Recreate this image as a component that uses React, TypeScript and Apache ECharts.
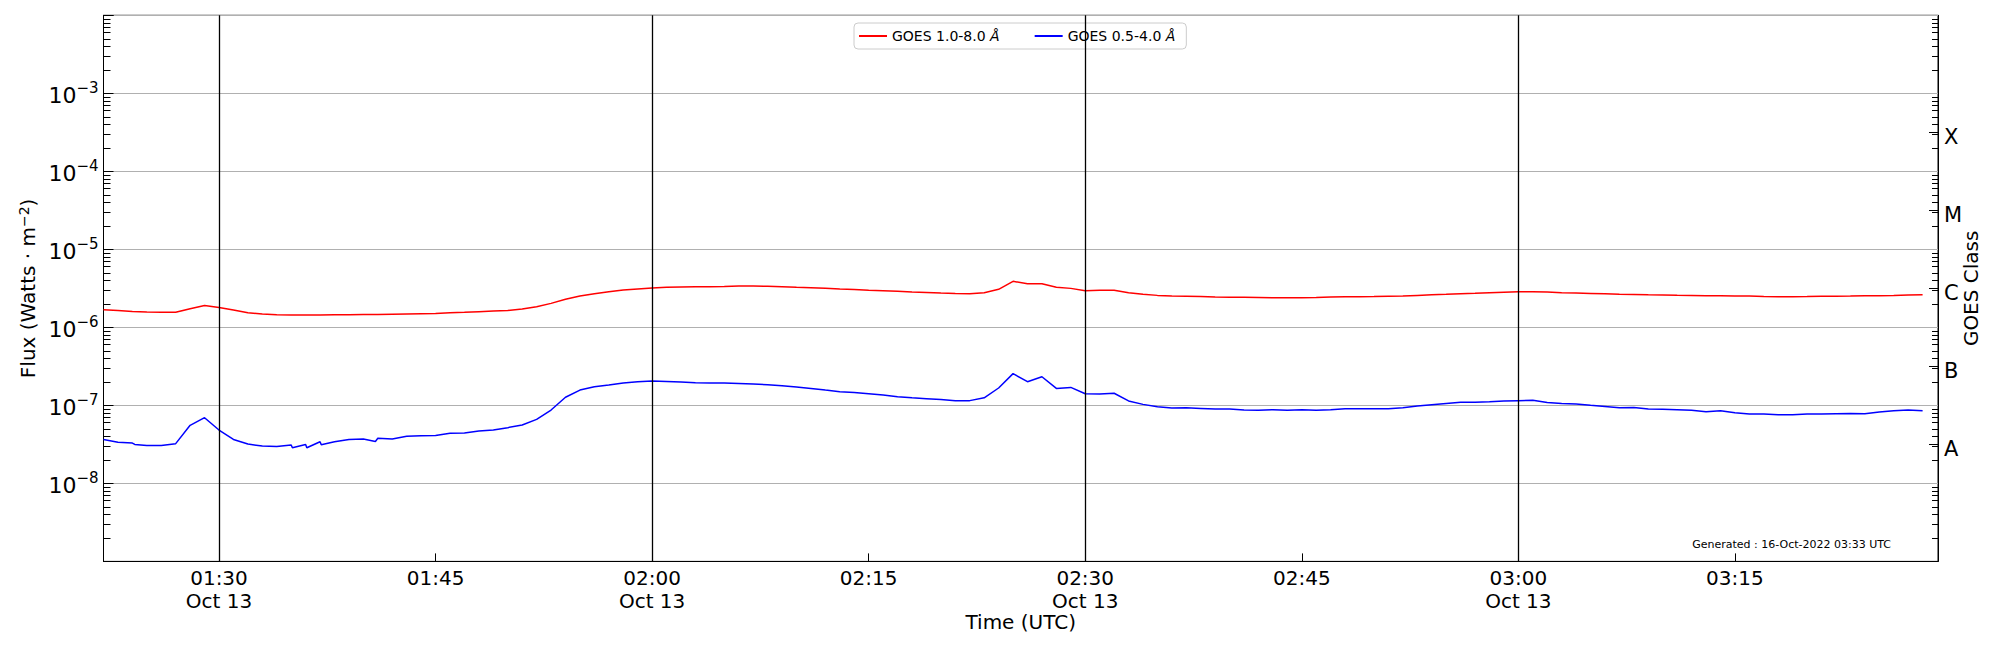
import React, { useEffect, useRef } from "react";
import * as echarts from "echarts";

const FONT = "DejaVu Sans";
const DATE = "2022-10-13";
const DATE_LABEL = "Oct 13";

const TIMES = [
  "01:22", "01:23", "01:24", "01:25", "01:26", "01:27", "01:28", "01:29",
  "01:30", "01:31", "01:32", "01:33", "01:34", "01:35", "01:36", "01:37", "01:38", "01:39",
  "01:40", "01:41", "01:42", "01:43", "01:44", "01:45", "01:46", "01:47", "01:48", "01:49",
  "01:50", "01:51", "01:52", "01:53", "01:54", "01:55", "01:56", "01:57", "01:58", "01:59",
  "02:00", "02:01", "02:02", "02:03", "02:04", "02:05", "02:06", "02:07", "02:08", "02:09",
  "02:10", "02:11", "02:12", "02:13", "02:14", "02:15", "02:16", "02:17", "02:18", "02:19",
  "02:20", "02:21", "02:22", "02:23", "02:24", "02:25", "02:26", "02:27", "02:28", "02:29",
  "02:30", "02:31", "02:32", "02:33", "02:34", "02:35", "02:36", "02:37", "02:38", "02:39",
  "02:40", "02:41", "02:42", "02:43", "02:44", "02:45", "02:46", "02:47", "02:48", "02:49",
  "02:50", "02:51", "02:52", "02:53", "02:54", "02:55", "02:56", "02:57", "02:58", "02:59",
  "03:00", "03:01", "03:02", "03:03", "03:04", "03:05", "03:06", "03:07", "03:08", "03:09",
  "03:10", "03:11", "03:12", "03:13", "03:14", "03:15", "03:16", "03:17", "03:18", "03:19",
  "03:20", "03:21", "03:22", "03:23", "03:24", "03:25", "03:26", "03:27", "03:28",
];

// GOES 1.0-8.0 Å (W/m^2)
const XRAY_LONG = [
  1.68e-6, 1.64e-6, 1.60e-6, 1.57e-6, 1.56e-6, 1.56e-6, 1.73e-6, 1.91e-6,
  1.80e-6, 1.67e-6, 1.54e-6, 1.48e-6, 1.45e-6, 1.44e-6, 1.44e-6, 1.44e-6, 1.45e-6, 1.45e-6,
  1.46e-6, 1.46e-6, 1.47e-6, 1.48e-6, 1.49e-6, 1.50e-6, 1.54e-6, 1.56e-6, 1.59e-6, 1.62e-6,
  1.64e-6, 1.72e-6, 1.84e-6, 2.03e-6, 2.29e-6, 2.52e-6, 2.70e-6, 2.86e-6, 3.01e-6, 3.10e-6,
  3.19e-6, 3.26e-6, 3.29e-6, 3.31e-6, 3.32e-6, 3.35e-6, 3.39e-6, 3.39e-6, 3.36e-6, 3.32e-6,
  3.27e-6, 3.23e-6, 3.17e-6, 3.10e-6, 3.05e-6, 2.98e-6, 2.94e-6, 2.90e-6, 2.84e-6, 2.80e-6,
  2.75e-6, 2.72e-6, 2.70e-6, 2.78e-6, 3.07e-6, 3.89e-6, 3.63e-6, 3.63e-6, 3.26e-6, 3.16e-6,
  2.95e-6, 2.98e-6, 2.98e-6, 2.78e-6, 2.65e-6, 2.57e-6, 2.52e-6, 2.50e-6, 2.48e-6, 2.45e-6,
  2.44e-6, 2.43e-6, 2.42e-6, 2.40e-6, 2.39e-6, 2.40e-6, 2.41e-6, 2.45e-6, 2.46e-6, 2.47e-6,
  2.48e-6, 2.50e-6, 2.52e-6, 2.57e-6, 2.61e-6, 2.65e-6, 2.70e-6, 2.73e-6, 2.78e-6, 2.82e-6,
  2.86e-6, 2.86e-6, 2.83e-6, 2.78e-6, 2.75e-6, 2.72e-6, 2.69e-6, 2.66e-6, 2.64e-6, 2.61e-6,
  2.60e-6, 2.58e-6, 2.57e-6, 2.55e-6, 2.55e-6, 2.53e-6, 2.52e-6, 2.49e-6, 2.47e-6, 2.47e-6,
  2.48e-6, 2.50e-6, 2.51e-6, 2.52e-6, 2.54e-6, 2.55e-6, 2.57e-6, 2.60e-6, 2.62e-6,
];

// GOES 0.5-4.0 Å (W/m^2)
const XRAY_SHORT = [
  3.66e-8, 3.36e-8, 3.29e-8, 3.07e-8, 3.07e-8, 3.23e-8, 5.55e-8, 6.95e-8,
  4.83e-8, 3.66e-8, 3.19e-8, 3.01e-8, 2.98e-8, 3.10e-8, 3.16e-8, 3.42e-8, 3.42e-8, 3.66e-8,
  3.70e-8, 3.78e-8, 3.70e-8, 4.01e-8, 4.08e-8, 4.12e-8, 4.38e-8, 4.42e-8, 4.69e-8, 4.85e-8,
  5.18e-8, 5.60e-8, 6.62e-8, 8.71e-8, 1.27e-7, 1.57e-7, 1.73e-7, 1.82e-7, 1.93e-7, 2.01e-7,
  2.05e-7, 2.03e-7, 1.99e-7, 1.95e-7, 1.93e-7, 1.93e-7, 1.91e-7, 1.88e-7, 1.84e-7, 1.79e-7,
  1.72e-7, 1.65e-7, 1.57e-7, 1.50e-7, 1.46e-7, 1.41e-7, 1.36e-7, 1.29e-7, 1.25e-7, 1.22e-7,
  1.19e-7, 1.15e-7, 1.15e-7, 1.25e-7, 1.67e-7, 2.55e-7, 2.01e-7, 2.33e-7, 1.65e-7, 1.70e-7,
  1.41e-7, 1.40e-7, 1.43e-7, 1.14e-7, 1.03e-7, 9.61e-8, 9.24e-8, 9.33e-8, 9.15e-8, 8.97e-8,
  8.97e-8, 8.71e-8, 8.63e-8, 8.80e-8, 8.63e-8, 8.80e-8, 8.63e-8, 8.80e-8, 9.06e-8, 9.06e-8,
  9.06e-8, 9.06e-8, 9.33e-8, 9.80e-8, 1.02e-7, 1.06e-7, 1.10e-7, 1.10e-7, 1.11e-7, 1.14e-7,
  1.15e-7, 1.16e-7, 1.09e-7, 1.06e-7, 1.04e-7, 1.00e-7, 9.70e-8, 9.33e-8, 9.42e-8, 8.97e-8,
  8.89e-8, 8.80e-8, 8.63e-8, 8.30e-8, 8.55e-8, 8.05e-8, 7.74e-8, 7.74e-8, 7.59e-8, 7.59e-8,
  7.74e-8, 7.74e-8, 7.81e-8, 7.89e-8, 7.81e-8, 8.22e-8, 8.55e-8, 8.71e-8, 8.55e-8,
];

// extra short-channel samples (the sawtooth drops)
const XRAY_SHORT_STEP_TIMES = ["01:24:10", "01:35:05", "01:36:05", "01:37:05", "01:40:50"];
const XRAY_SHORT_STEP_VALUES = [3.16e-8, 2.86e-8, 2.86e-8, 3.13e-8, 3.45e-8];

const X_MIN = "01:22:00";
const X_MAX = "03:29:04";
const HALF_HOUR_LINES = ["01:30", "02:00", "02:30", "03:00"];
const X_TICKS = ["01:30", "01:45", "02:00", "02:15", "02:30", "02:45", "03:00", "03:15"];

const Y_MIN = 1e-9;
const Y_MAX = 1e-2;
const Y_LABEL_EXPS = [-8, -7, -6, -5, -4, -3];
const CLASS_LABELS = ["A", "B", "C", "M", "X"];
const CLASS_CENTER_EXPS = [-7.5, -6.5, -5.5, -4.5, -3.5];

const SERIES_NAMES = ["GOES 1.0-8.0 Å", "GOES 0.5-4.0 Å"];
const SERIES_COLORS = ["#ff0000", "#0000ff"];
const GENERATED = "Generated : 16-Oct-2022 03:33 UTC";

const toMs = (t: string) =>
  Date.parse(`${DATE}T${t.length === 5 ? t + ":00" : t}Z`);

const pad2 = (n: number) => (n < 10 ? "0" + n : "" + n);

export default function App() {
  const ref = useRef<HTMLDivElement>(null);

  useEffect(() => {
    if (!ref.current) return;
    const chart = echarts.init(ref.current, undefined, { renderer: "svg" });

    const longData = TIMES.map((t, i) => [toMs(t), XRAY_LONG[i]]);
    const shortData = TIMES.map((t, i) => [toMs(t), XRAY_SHORT[i]])
      .concat(XRAY_SHORT_STEP_TIMES.map((t, i) => [toMs(t), XRAY_SHORT_STEP_VALUES[i]]))
      .sort((a, b) => a[0] - b[0]);

    const expMin = Math.log10(Y_MIN);
    const expMax = Math.log10(Y_MAX);
    const minorExps: number[] = [];
    for (let n = expMin; n < expMax; n++) {
      for (let k = 2; k <= 9; k++) minorExps.push(n + Math.log10(k));
    }
    const xTickMs = X_TICKS.map(toMs);

    const black = "#000000";
    const tickStyle = { color: black, width: 1 };

    const option: any = {
      animation: false,
      backgroundColor: "#ffffff",
      textStyle: { fontFamily: FONT },
      grid: {
        left: 103.5,
        right: 62,
        top: 15.3,
        bottom: 88.6,
        show: true,
        borderColor: black,
        borderWidth: 1,
        backgroundColor: "transparent",
        containLabel: false,
        outerBoundsMode: "none",
      },
      legend: {
        data: SERIES_NAMES,
        left: 854,
        top: 23,
        orient: "horizontal",
        padding: [6, 11, 6, 5],
        itemGap: 35,
        itemWidth: 28,
        itemHeight: 2,
        icon: "rect",
        borderColor: "#cccccc",
        borderWidth: 1,
        borderRadius: 4,
        backgroundColor: "transparent",
        selectedMode: false,
        formatter: (n: string) => {
          const k = n.indexOf("Å");
          return `{t|${n.slice(0, k)}}{i|Å}`;
        },
        textStyle: {
          fontSize: 14,
          color: black,
          fontFamily: FONT,
          rich: {
            t: { fontSize: 14, fontFamily: FONT, color: black },
            i: { fontSize: 14, fontStyle: "italic", fontFamily: FONT, color: black },
          },
        },
      },
      xAxis: {
        type: "value",
        min: toMs(X_MIN),
        max: toMs(X_MAX),
        scale: true,
        name: "Time (UTC)",
        nameLocation: "middle",
        nameGap: 51,
        nameMoveOverlap: false,
        nameTextStyle: { fontSize: 20, color: black, fontFamily: FONT },
        axisLine: { show: true, onZero: false, lineStyle: tickStyle },
        axisTick: { show: true, inside: true, length: 8, lineStyle: tickStyle, customValues: xTickMs },
        axisLabel: {
          show: true,
          customValues: xTickMs,
          fontSize: 20,
          lineHeight: 23,
          color: black,
          fontFamily: FONT,
          margin: 5,
          hideOverlap: false,
          formatter: (v: number) => {
            const d = new Date(v);
            const h = d.getUTCHours();
            const m = d.getUTCMinutes();
            const s = `${pad2(h)}:${pad2(m)}`;
            return m % 30 === 0 ? `${s}\n${DATE_LABEL}` : s;
          },
        },
        splitLine: { show: false },
      },
      yAxis: [
        {
          type: "log",
          logBase: 10,
          min: Y_MIN,
          max: Y_MAX,
          position: "left",
          name: "Flux (Watts · m{s|−2})",
          nameLocation: "middle",
          nameRotate: 90,
          nameGap: 65,
          nameMoveOverlap: false,
          nameTextStyle: {
            fontSize: 20,
            color: black,
            fontFamily: FONT,
            rich: {
              s: { fontSize: 14, color: black, fontFamily: FONT, padding: [0, 0, 8, 0] },
            },
          },
          axisLine: { show: true, lineStyle: tickStyle },
          axisTick: { show: true, inside: true, length: 10, lineStyle: tickStyle },
          axisLabel: {
            show: true,
            margin: 5,
            color: black,
            formatter: (v: number) => {
              const e = Math.round(Math.log10(v));
              if (Y_LABEL_EXPS.indexOf(e) < 0) return "";
              return `{b|10}{s|−${-e}}`;
            },
            rich: {
              b: { fontSize: 22, fontFamily: FONT, color: black, lineHeight: 26, verticalAlign: "bottom" },
              s: { fontSize: 15, fontFamily: FONT, color: black, verticalAlign: "top" },
            },
          },
          splitLine: { show: true, lineStyle: { color: "#b0b0b0", width: 1 } },
          minorTick: { show: false },
        },
        {
          type: "value",
          min: expMin,
          max: expMax,
          position: "left",
          axisLine: { show: false },
          axisTick: { show: true, inside: true, length: 7, lineStyle: tickStyle, customValues: minorExps },
          axisLabel: { show: false },
          splitLine: { show: false },
        },
        {
          type: "value",
          min: expMin,
          max: expMax,
          position: "right",
          name: "GOES Class",
          nameLocation: "middle",
          nameRotate: 90,
          nameGap: 23,
          nameMoveOverlap: false,
          nameTextStyle: { fontSize: 20, color: black, fontFamily: FONT },
          axisLine: { show: true, lineStyle: tickStyle },
          axisTick: { show: true, inside: true, length: 9, lineStyle: tickStyle, customValues: CLASS_CENTER_EXPS },
          axisLabel: {
            show: true,
            customValues: CLASS_CENTER_EXPS,
            margin: 6,
            color: black,
            formatter: (v: number) => {
              const i = CLASS_CENTER_EXPS.findIndex((c) => Math.abs(c - v) < 1e-6);
              return i >= 0 ? `{c|${CLASS_LABELS[i]}}` : "";
            },
            rich: {
              c: { fontSize: 21, fontFamily: FONT, color: black, padding: [9, 0, 0, 0] },
            },
          },
          splitLine: { show: false },
        },
        {
          type: "value",
          min: expMin,
          max: expMax,
          position: "right",
          axisLine: { show: false },
          axisTick: { show: true, inside: true, length: 6, lineStyle: tickStyle, customValues: minorExps },
          axisLabel: { show: false },
          splitLine: { show: false },
        },
      ],
      series: [
        {
          name: SERIES_NAMES[0],
          type: "line",
          xAxisIndex: 0,
          yAxisIndex: 0,
          data: longData,
          showSymbol: false,
          symbol: "none",
          lineStyle: { color: SERIES_COLORS[0], width: 1.5 },
          itemStyle: { color: SERIES_COLORS[0] },
          emphasis: { disabled: true },
          z: 3,
          markLine: {
            silent: true,
            symbol: ["none", "none"],
            label: { show: false },
            lineStyle: { color: black, width: 1.3, type: "solid" },
            emphasis: { disabled: true },
            data: HALF_HOUR_LINES.map((t) => ({ xAxis: toMs(t) })),
          },
        },
        {
          name: SERIES_NAMES[1],
          type: "line",
          xAxisIndex: 0,
          yAxisIndex: 0,
          data: shortData,
          showSymbol: false,
          symbol: "none",
          lineStyle: { color: SERIES_COLORS[1], width: 1.5 },
          itemStyle: { color: SERIES_COLORS[1] },
          emphasis: { disabled: true },
          z: 3,
        },
      ],
      graphic: [
        {
          type: "text",
          x: 1891,
          y: 544,
          style: {
            text: GENERATED,
            align: "right",
            verticalAlign: "middle",
            fontSize: 11,
            fontFamily: FONT,
            fill: black,
          },
        },
      ],
    };

    chart.setOption(option);
    return () => chart.dispose();
  }, []);

  return (
    <div
      ref={ref}
      style={{ position: "fixed", left: 0, top: 0, width: 2000, height: 650, background: "#fff" }}
    />
  );
}
